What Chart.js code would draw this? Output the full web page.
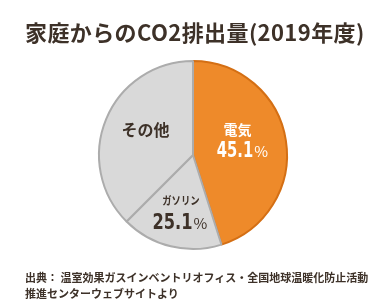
<!DOCTYPE html>
<html lang="ja">
<head>
<meta charset="utf-8">
<script src="https://cdn.jsdelivr.net/npm/chart.js@4"></script>
<style>
  html, body { margin: 0; padding: 0; background: #fff; }
  #wrap { position: relative; width: 381px; height: 305px; overflow: hidden; }
  #title {
    position: absolute; left: 25px; top: 15px; white-space: nowrap;
    font: 700 22px "Noto Sans CJK JP", sans-serif; color: #3d3128; letter-spacing: 0.4px;
  }
  #source {
    position: absolute; left: 25px; top: 269px; white-space: nowrap;
    font: 700 11px/16px "Noto Sans CJK JP", sans-serif; color: #3d3128;
  }
  canvas { position: absolute; left: 0; top: 0; }
</style>
</head>
<body>
<div id="wrap">
  <canvas id="pie" width="381" height="305"></canvas>
  <div id="title">家庭からのCO2排出量(2019年度)</div>
  <div id="source">出典： 温室効果ガスインベントリオフィス・全国地球温暖化防止活動<br>推進センターウェブサイトより</div>
</div>
<script>
// categories, clockwise from 12 o'clock
const categories = ['電気', 'ガソリン', 'その他'];
// slice sizes as drawn in the picture (%)
const shares = [45.1, 17.4, 37.5];
// percentages printed on the slices
const printed = ['45.1', '25.1', null];

const fills = ['#ee8a2a', '#d9d9d9', '#d9d9d9'];
const borders = ['#d46f14', '#acacac', '#acacac'];

// label look, offsets from the slice's label point
const labelStyle = [
    { color: '#ffffff', name: 14, nameSx: 1, nameDx: -2, nameDy: -18, num: 21, numSx: 0.78, numDx: 3, numDy: 9, pct: 15 },
    { color: '#3d3128', name: 11, nameSx: 0.85, nameDx: -1, nameDy: 0, num: 22, numSx: 0.82, numDx: -2, numDy: 28, pct: 15 },
    { color: '#3d3128', name: 16, nameSx: 1, nameDx: -4, nameDy: -7 }
];

const sliceLabels = {
    id: 'sliceLabels',
    afterDatasetsDraw(chart) {
        const ctx = chart.ctx;
        chart.getDatasetMeta(0).data.forEach((arc, i) => {
            const p = arc.tooltipPosition();
            const s = labelStyle[i];
            ctx.save();
            ctx.fillStyle = s.color;

            // category name
            ctx.save();
            ctx.translate(p.x + s.nameDx, p.y + s.nameDy);
            ctx.scale(s.nameSx, 1);
            ctx.textAlign = 'center';
            ctx.textBaseline = 'middle';
            ctx.font = '700 ' + s.name + 'px "Noto Sans CJK JP"';
            ctx.fillText(categories[i], 0, 0);
            ctx.restore();

            // condensed number with a thin %
            if (printed[i]) {
                ctx.font = '700 ' + s.num + 'px "DejaVu Sans Condensed"';
                const numW = ctx.measureText(printed[i]).width * s.numSx;
                ctx.font = '400 ' + s.pct + 'px "Noto Sans CJK JP"';
                const pw = ctx.measureText('%').width;
                const left = p.x + s.numDx - (numW + 1 + pw) / 2;
                const base = p.y + s.numDy;
                ctx.textBaseline = 'alphabetic';
                ctx.textAlign = 'left';
                ctx.save();
                ctx.translate(left, base);
                ctx.scale(s.numSx, 1);
                ctx.font = '700 ' + s.num + 'px "DejaVu Sans Condensed"';
                ctx.fillText(printed[i], 0, 0);
                ctx.restore();
                ctx.font = '400 ' + s.pct + 'px "Noto Sans CJK JP"';
                ctx.fillText('%', left + numW + 1, base);
            }
            ctx.restore();
        });
    }
};

new Chart(document.getElementById('pie'), {
    type: 'pie',
    data: {
        labels: categories,
        datasets: [{
            data: shares,
            backgroundColor: fills,
            borderColor: borders,
            borderWidth: 2,
            radius: 94
        }]
    },
    options: {
        responsive: false,
        animation: false,
        layout: { padding: { left: 50, right: 45, top: 55, bottom: 50 } },
        plugins: {
            legend: { display: false },
            tooltip: { enabled: false },
            title: { display: false }
        }
    },
    plugins: [sliceLabels]
});
</script>
</body>
</html>
